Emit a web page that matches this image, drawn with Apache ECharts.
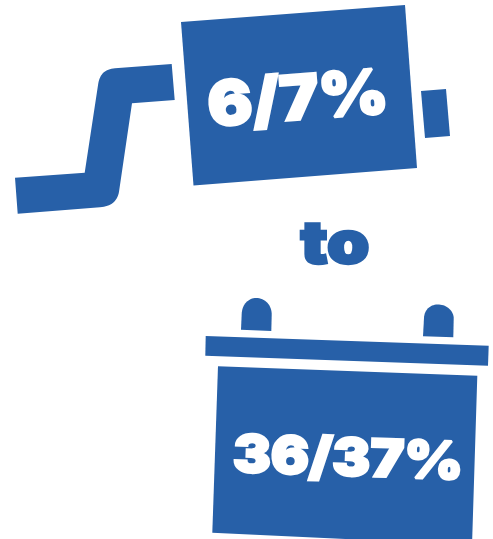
<!DOCTYPE html>
<html><head><meta charset="utf-8">
<style>html,body{margin:0;padding:0;background:#fff}#c{width:493px;height:539px}</style>
<script src="https://cdn.jsdelivr.net/npm/echarts@6/dist/echarts.min.js"></script>
</head><body><div id="c"></div>
<script>
const exhaustLabel = '6/7%';
const connectorLabel = 'to';
const batteryLabel = '36/37%';
const BLUE = '#2760a8';
const font = '"Inter","Lato","Roboto",sans-serif';
const chart = echarts.init(document.getElementById('c'), null, {renderer:'canvas'});
// sample a cubic curve into outline points
const curve = (a,b,c,d) => { const o=[]; for(let i=0;i<=16;i++){const t=i/16,u=1-t;
  o.push([0,1].map(k=>u*u*u*a[k]+3*u*u*t*b[k]+3*u*t*t*c[k]+t*t*t*d[k]));} return o; };
const poly = pts => ({type:'polygon', shape:{points:pts}, style:{fill:BLUE}, silent:true});
const txt = (t,x,y,size,rot,color,sw,sx) => ({type:'text', x, y, scaleX:sx, rotation:rot*Math.PI/180,
  style:{text:t, fill:color, stroke:color, lineWidth:sw, lineJoin:'round', font:`900 ${size}px ${font}`, align:'center', verticalAlign:'middle'}});
chart.setOption({
  animation:false,
  backgroundColor:'#fff',
  graphic:{elements:[
    poly([[15,177.7],[84.7,172.7],...curve([98.3,83.3],[100,74],[105,69],[115,68.3]),[171.7,64],[174.7,100],[132,103.3],...curve([119,191.7],[117.5,201],[111,206.5],[100,207.3]),[17.7,213.7]]),
    poly([[181,22],[405,5],[417,168],[193.5,185.5]]),
    poly([[421,91],[446,89],[450,136],[425,138]]),
    poly([[241,329.7],[241.7,314],...curve([241.7,314],[242,304],[249,298],[256,298]),...curve([256,298],[265,298],[272,305],[271.7,315]),[271.3,331]]),
    poly([[423,336.3],[424,318],...curve([424,318],[424.5,309],[431,304],[439,304.5]),...curve([439,304.5],[447,305],[454,311],[453.7,319]),[453.3,337.3]]),
    poly([[205.7,336],[488.7,345.7],[488,365.7],[205.3,355.7]]),
    poly([[218,366.3],[477.3,375.7],[472,545],[212.3,532.7]]),
    txt(exhaustLabel,298,101,62,4.4,'#fff',2.5,1.07),
    txt(connectorLabel,335,246,58,0,BLUE,2.5,1.17),
    txt(batteryLabel,348,460,52,-1.9,'#fff',2.5,1.09)
  ]}
});
</script></body></html>
